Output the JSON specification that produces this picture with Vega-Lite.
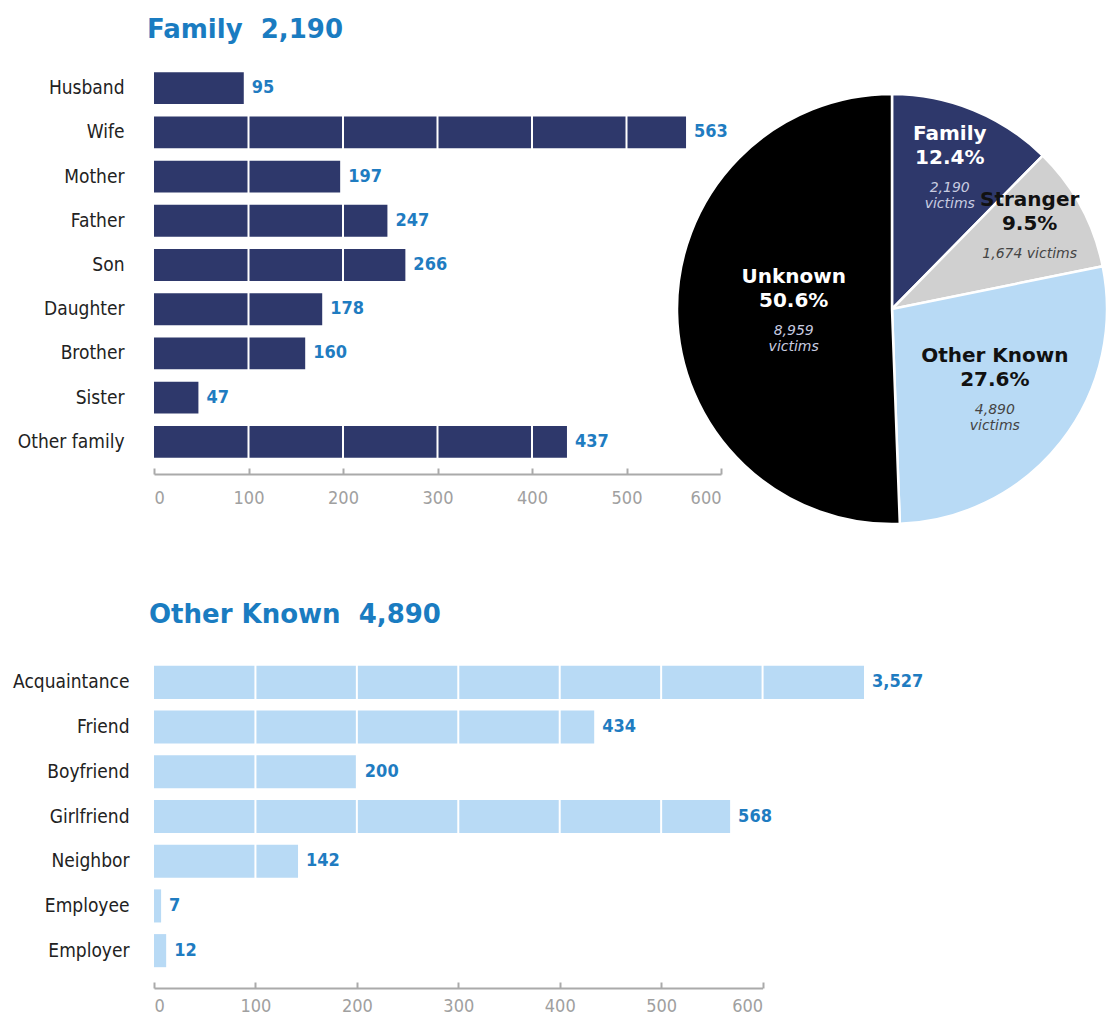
{
  "$schema": "https://vega.github.io/schema/vega-lite/v6.json",
  "background": "white",
  "padding": {"left": 12, "top": 17, "right": 0, "bottom": 0},
  "config": {
    "view": {"stroke": null},
    "font": "Liberation Sans Narrow, Arial Narrow, DejaVu Sans Condensed, sans-serif"
  },
  "spacing": 50,
  "vconcat": [
    {
      "bounds": "flush",
      "spacing": 0,
      "hconcat": [
        {
          "width": 567,
          "height": 398,
          "title": {"text": "Family\u00a0\u00a02,190", "anchor": "start", "frame": "group", "font": "DejaVu Sans", "fontSize": 26, "fontWeight": "bold", "color": "#1a7cc1", "offset": 22, "dx": -7},
          "data": {"values": [
            {"relation": "Husband", "victims": 95},
            {"relation": "Wife", "victims": 563},
            {"relation": "Mother", "victims": 197},
            {"relation": "Father", "victims": 247},
            {"relation": "Son", "victims": 266},
            {"relation": "Daughter", "victims": 178},
            {"relation": "Brother", "victims": 160},
            {"relation": "Sister", "victims": 47},
            {"relation": "Other family", "victims": 437}
          ]},
          "layer": [
            {"mark": {"type": "bar", "color": "#2e386b"},
             "encoding": {
               "y": {"field": "relation", "type": "nominal", "sort": null,
                     "scale": {"paddingInner": 0.28, "paddingOuter": 0.14},
                     "axis": {"title": null, "domain": false, "ticks": false, "labelFontSize": 19, "labelColor": "#222", "labelPadding": 30}},
               "x": {"field": "victims", "type": "quantitative", "scale": {"domain": [0, 600]},
                     "axis": {"title": null, "values": [0, 100, 200, 300, 400, 500, 600], "grid": false,
                              "domainColor": "#aaaaaa", "domainWidth": 2, "tickColor": "#aaaaaa", "tickWidth": 2, "tickSize": -6, "offset": 10,
                              "labelColor": "#a0a0a0", "labelFontSize": 18, "labelPadding": 21}}}},
            {"data": {"values": [{"tick": 100}, {"tick": 200}, {"tick": 300}, {"tick": 400}, {"tick": 500}]},
             "mark": {"type": "rule", "color": "white", "strokeWidth": 2},
             "encoding": {"x": {"field": "tick", "type": "quantitative"}}},
            {"mark": {"type": "text", "align": "left", "dx": 8, "color": "#1f7cc1", "fontSize": 18, "fontWeight": "bold"},
             "encoding": {
               "y": {"field": "relation", "type": "nominal", "sort": null},
               "x": {"field": "victims", "type": "quantitative"},
               "text": {"field": "victims", "type": "quantitative", "format": ","}}}
          ]
        },
        {
          "width": 342,
          "height": 486,
          "data": {"values": [
            {"cat": "Family", "victims": 2190, "order": 1, "label": "Family\n12.4%", "sub": "2,190\nvictims"},
            {"cat": "Stranger", "victims": 1674, "order": 2, "label": "Stranger\n9.5%", "sub": "1,674 victims"},
            {"cat": "Other Known", "victims": 4890, "order": 3, "label": "Other Known\n27.6%", "sub": "4,890\nvictims"},
            {"cat": "Unknown", "victims": 8959, "order": 4, "label": "Unknown\n50.6%", "sub": "8,959\nvictims"}
          ]},
          "encoding": {
            "theta": {"field": "victims", "type": "quantitative", "stack": true},
            "order": {"field": "order", "type": "quantitative"}
          },
          "layer": [
            {"mark": {"type": "arc", "outerRadius": 215, "stroke": "white", "strokeWidth": 2.5},
             "encoding": {"color": {"field": "cat", "type": "nominal", "legend": null,
                                    "scale": {"domain": ["Family", "Stranger", "Other Known", "Unknown"], "range": ["#2e386b", "#d0d0d0", "#b8daf5", "#000000"]}}}},
            {"mark": {"type": "text", "dy": -34, "font": "DejaVu Sans", "fontWeight": "bold", "fontSize": 20, "lineBreak": "\n", "lineHeight": 24},
             "encoding": {
               "radius": {"field": "victims", "type": "quantitative", "scale": {"type": "linear", "domain": [0, 10000], "range": [170, 90], "zero": false}},
               "text": {"field": "label"},
               "color": {"condition": {"test": "datum.cat === 'Family' || datum.cat === 'Unknown'", "value": "white"}, "value": "#111111"}
             }},
            {"mark": {"type": "text", "dy": 20, "font": "DejaVu Sans", "fontStyle": "italic", "fontSize": 14, "lineBreak": "\n", "lineHeight": 16},
             "encoding": {
               "radius": {"field": "victims", "type": "quantitative", "scale": {"type": "linear", "domain": [0, 10000], "range": [170, 90], "zero": false}},
               "text": {"field": "sub"},
               "color": {"condition": {"test": "datum.cat === 'Family' || datum.cat === 'Unknown'", "value": "#c8cce0"}, "value": "#444444"}
             }}
          ]
        }
      ]
    },
    {
      "width": 710,
      "height": 313,
      "title": {"text": "Other Known\u00a0\u00a04,890", "anchor": "start", "frame": "group", "font": "DejaVu Sans", "fontSize": 26, "fontWeight": "bold", "color": "#1a7cc1", "offset": 31, "dx": -5},
      "data": {"values": [
        {"relation": "Acquaintance", "victims": 3527},
        {"relation": "Friend", "victims": 434},
        {"relation": "Boyfriend", "victims": 200},
        {"relation": "Girlfriend", "victims": 568},
        {"relation": "Neighbor", "victims": 142},
        {"relation": "Employee", "victims": 7},
        {"relation": "Employer", "victims": 12}
      ]},
      "resolve": {"scale": {"x": "independent"}, "axis": {"x": "independent"}},
      "layer": [
        {"mark": {"type": "bar", "color": "#b8daf5"},
         "encoding": {
           "y": {"field": "relation", "type": "nominal", "sort": null,
                 "scale": {"paddingInner": 0.26, "paddingOuter": 0.13},
                 "axis": {"title": null, "domain": false, "ticks": false, "labelFontSize": 19, "labelColor": "#222", "labelPadding": 25}},
           "x": {"field": "victims", "type": "quantitative", "scale": {"domain": [0, 700], "clamp": true}, "axis": null}}},
        {"data": {"values": [{"tick": 100}, {"tick": 200}, {"tick": 300}, {"tick": 400}, {"tick": 500}, {"tick": 600}]},
         "mark": {"type": "rule", "color": "white", "strokeWidth": 2},
         "encoding": {"x": {"field": "tick", "type": "quantitative", "scale": {"domain": [0, 700]}, "axis": null}}},
        {"mark": {"type": "text", "align": "left", "dx": 8, "color": "#1f7cc1", "fontSize": 18, "fontWeight": "bold"},
         "encoding": {
           "y": {"field": "relation", "type": "nominal", "sort": null},
           "x": {"field": "victims", "type": "quantitative", "scale": {"domain": [0, 700], "clamp": true}, "axis": null},
           "text": {"field": "victims", "type": "quantitative", "format": ","}}},
        {"mark": {"type": "rule", "opacity": 0},
         "encoding": {"x": {"datum": 0, "type": "quantitative", "scale": {"domain": [0, 600], "range": [0, 608.6]},
                            "axis": {"title": null, "values": [0, 100, 200, 300, 400, 500, 600], "grid": false,
                                     "domainColor": "#aaaaaa", "domainWidth": 2, "tickColor": "#aaaaaa", "tickWidth": 2, "tickSize": -6, "offset": 15,
                                     "labelColor": "#a0a0a0", "labelFontSize": 18, "labelPadding": 15}}}}
      ]
    }
  ]
}
